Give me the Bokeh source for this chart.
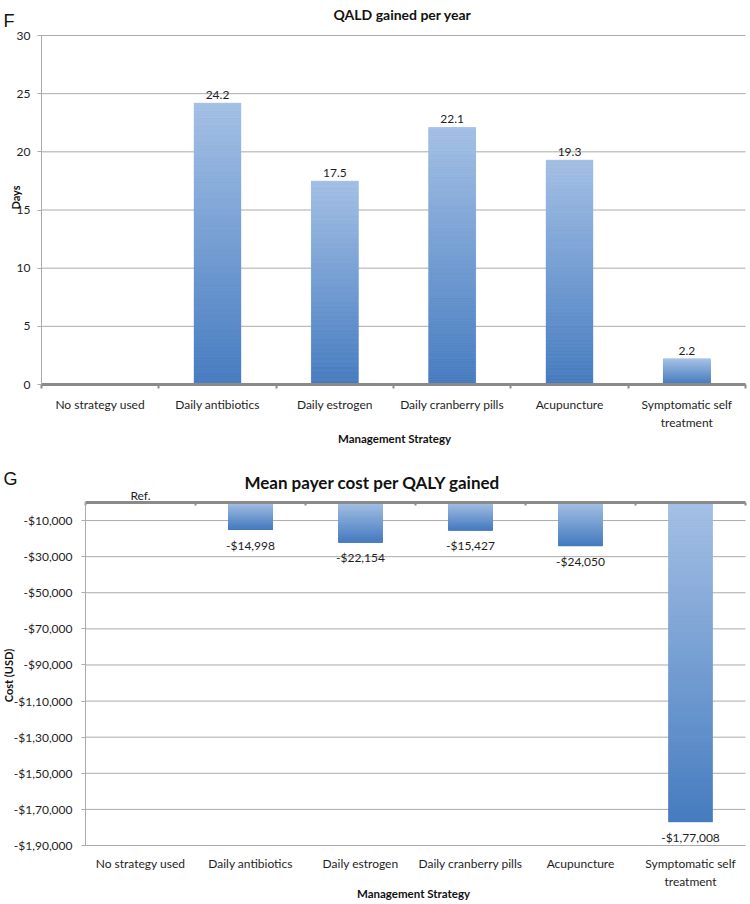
import numpy as np
from math import pi
from bokeh.plotting import figure
from bokeh.models import Range1d, FixedTicker, LinearAxis, Label
from bokeh.layouts import column
from bokeh.embed import file_html
from bokeh.resources import INLINE

# ---------------- data ----------------
categories = ["No strategy used", "Daily antibiotics", "Daily estrogen",
              "Daily cranberry pills", "Acupuncture", "Symptomatic self\ntreatment"]

qald_days = [0, 24.2, 17.5, 22.1, 19.3, 2.2]
qald_labels = ["", "24.2", "17.5", "22.1", "19.3", "2.2"]
qald_ticks = [0, 5, 10, 15, 20, 25, 30]

cost_usd = [0, -14998, -22154, -15427, -24050, -177008]
cost_labels = ["Ref.", "-$14,998", "-$22,154", "-$15,427", "-$24,050", "-$1,77,008"]
cost_ticks = [-10000, -30000, -50000, -70000, -90000, -110000,
              -130000, -150000, -170000, -190000]
cost_tick_labels = ["-$10,000", "-$30,000", "-$50,000", "-$70,000", "-$90,000",
                    "-$1,10,000", "-$1,30,000", "-$1,50,000", "-$1,70,000", "-$1,90,000"]

# ---------------- style ----------------
FONT = "Lato"
TXT = "#1e1e1e"
DARKTXT = "#111111"
GRID = "#ababab"
AXIS = "#8a8a8a"
LIGHT = np.array([167, 194, 230])
DARK = np.array([70, 124, 192])
W = 750

n_cat = len(categories)
xs = list(range(n_cat))
bounds = [i - 0.5 for i in range(n_cat + 1)]
X_LO, X_HI = bounds[0], bounds[-1]


class Mapper:
    """pixel <-> data mapping for a figure whose frame fills the whole canvas"""
    def __init__(self, xa, pxa, xb, pxb, ya, pya, yb, pyb, w, h):
        self.sx = (pxb - pxa) / (xb - xa)
        self.x0 = xa - pxa / self.sx
        self.sy = (pyb - pya) / (ya - yb)
        self.y0 = ya + pya / self.sy
        self.w, self.h = w, h

    def xr(self):
        return Range1d(self.x0, self.x0 + self.w / self.sx)

    def yr(self):
        return Range1d(self.y0 - self.h / self.sy, self.y0)

    def x(self, px):
        return self.x0 + px / self.sx

    def y(self, py):
        return self.y0 - py / self.sy


def gradient_bars(p, xvals, vals, width=0.4, n=160):
    mid = "#%02x%02x%02x" % tuple(((LIGHT + DARK) / 2).astype(int))
    p.vbar(x=xvals, top=vals, bottom=0, width=width, fill_color=mid, line_color=None)
    L, R, B, T, C = [], [], [], [], []
    for x, v in zip(xvals, vals):
        if v == 0:
            continue
        lo, hi = min(0, v), max(0, v)
        edges = np.linspace(lo, hi, n + 1)
        for k in range(n):
            t = (k + 0.5) / n
            c = np.round(DARK + t * (LIGHT - DARK)).astype(int)
            L.append(x - width / 2)
            R.append(x + width / 2)
            B.append(edges[k])
            T.append(edges[k + 1])
            C.append("#%02x%02x%02x" % tuple(c))
    p.quad(left=L, right=R, bottom=B, top=T, fill_color=C, line_color=C, line_width=0.4)


def new_fig(m, h):
    p = figure(width=W, height=h, x_range=m.xr(), y_range=m.yr(),
               x_axis_type=None, y_axis_type=None,
               output_backend="svg", toolbar_location=None,
               min_border=0, min_border_left=0, min_border_right=0,
               min_border_top=0, min_border_bottom=0)
    p.outline_line_color = None
    p.xgrid.visible = False
    p.ygrid.visible = False
    return p


def add_label(p, x, y, text, size="12px", bold=False, align="center", baseline="middle",
              angle=0, font=FONT, color=TXT, y_offset=0):
    p.add_layout(Label(x=x, y=y, text=text, text_align=align, text_baseline=baseline,
                       angle=angle, text_font=font, text_font_size=size,
                       text_font_style="bold" if bold else "normal",
                       text_color=color, y_offset=y_offset))


def value_axis(p, ticks, overrides, lo, hi, standoff):
    ax = LinearAxis(fixed_location=X_LO, bounds=(lo, hi), ticker=FixedTicker(ticks=ticks),
                    axis_line_color=GRID, axis_line_width=1,
                    major_tick_line_color=GRID, major_tick_out=4, major_tick_in=0,
                    minor_tick_line_color=None, major_label_standoff=standoff,
                    major_label_text_font=FONT, major_label_text_font_size="12px",
                    major_label_text_color=TXT)
    if overrides:
        ax.major_label_overrides = overrides
    p.add_layout(ax, "left")
    # horizontal gridlines at the tick values
    p.segment(x0=[X_LO] * len(ticks), x1=[X_HI] * len(ticks), y0=ticks, y1=ticks,
              line_color=GRID, line_width=1)


# ================= F: QALD gained per year =================
H1 = 452
m1 = Mapper(X_LO, 41, X_HI, 745, 30, 35, 0, 384, W, H1)
p1 = new_fig(m1, H1)
value_axis(p1, qald_ticks, None, 0, 30, 7)
gradient_bars(p1, xs, qald_days)

cat1 = LinearAxis(fixed_location=0, bounds=(X_LO, X_HI),
                  ticker=FixedTicker(ticks=xs, minor_ticks=bounds),
                  major_label_overrides={i: c for i, c in zip(xs, categories)},
                  axis_line_color=AXIS, axis_line_width=3,
                  major_tick_line_color=None,
                  minor_tick_line_color=AXIS, minor_tick_line_width=2,
                  minor_tick_out=4, minor_tick_in=0, major_label_standoff=6,
                  major_label_text_font=FONT, major_label_text_font_size="12px",
                  major_label_text_color=TXT)
p1.add_layout(cat1, "below")

for x, v, lab in zip(xs, qald_days, qald_labels):
    if lab:
        add_label(p1, x, v, lab, baseline="alphabetic", y_offset=8)

add_label(p1, m1.x(3), m1.y(20), "F", size="18px", align="left", baseline="alphabetic",
          font="Liberation Sans", color=DARKTXT)
add_label(p1, m1.x(402), m1.y(14), "QALD gained per year", size="14px", bold=True,
          baseline="alphabetic", color=DARKTXT)
add_label(p1, m1.x(15), m1.y(197), "Days", size="11px", bold=True, angle=pi / 2,
          color=DARKTXT)
add_label(p1, m1.x(394), m1.y(438), "Management Strategy", size="11.5px", bold=True,
          color=DARKTXT)

# ================= G: Mean payer cost per QALY gained =================
H2 = 450
OFF = 452  # page y where the second figure starts
m2 = Mapper(X_LO, 85, X_HI, 745, 0, 502 - OFF, -190000, 845 - OFF, W, H2)
p2 = new_fig(m2, H2)
value_axis(p2, cost_ticks, {t: s for t, s in zip(cost_ticks, cost_tick_labels)},
           -190000, 0, 9)
gradient_bars(p2, xs, cost_usd)

zero_axis = LinearAxis(fixed_location=0, bounds=(X_LO, X_HI),
                       ticker=FixedTicker(ticks=[], minor_ticks=bounds),
                       axis_line_color=AXIS, axis_line_width=3,
                       major_tick_line_color=None,
                       minor_tick_line_color=AXIS, minor_tick_line_width=2,
                       minor_tick_in=3, minor_tick_out=0,
                       major_label_text_font_size="0px")
p2.add_layout(zero_axis, "above")

cat2 = LinearAxis(fixed_location=cost_ticks[-1], bounds=(X_LO, X_HI),
                  ticker=FixedTicker(ticks=xs),
                  major_label_overrides={i: c for i, c in zip(xs, categories)},
                  axis_line_color=None, major_tick_line_color=None,
                  minor_tick_line_color=None, major_label_standoff=4,
                  major_label_text_font=FONT, major_label_text_font_size="12px",
                  major_label_text_color=TXT)
p2.add_layout(cat2, "below")

for x, v, lab in zip(xs, cost_usd, cost_labels):
    if v == 0:
        add_label(p2, x, v, lab, baseline="alphabetic", y_offset=7)
    else:
        add_label(p2, x, v, lab, baseline="top", y_offset=-8)

add_label(p2, m2.x(3), m2.y(478 - OFF), "G", size="18px", align="left", baseline="alphabetic",
          font="Liberation Sans", color=DARKTXT)
add_label(p2, m2.x(372), m2.y(482 - OFF), "Mean payer cost per QALY gained", size="17px",
          bold=True, baseline="alphabetic", color=DARKTXT)
add_label(p2, m2.x(8), m2.y(675 - OFF), "Cost (USD)", size="11px", bold=True, angle=pi / 2,
          color=DARKTXT)
add_label(p2, m2.x(413), m2.y(893 - OFF), "Management Strategy", size="11.5px", bold=True,
          color=DARKTXT)

layout = column(p1, p2, spacing=0)
open("out.html", "w").write(file_html(layout, INLINE))
